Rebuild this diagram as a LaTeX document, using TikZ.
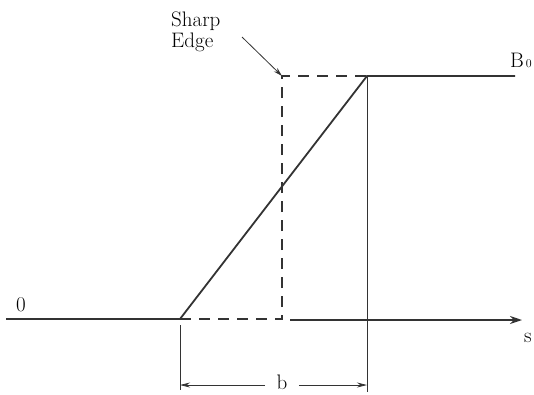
\documentclass[tikz,border=0pt]{standalone}
\usepackage{fontspec}
\usepackage{tikz}
\usetikzlibrary{arrows.meta}

\tikzset{
  label/.style={font=\fontsize{21}{21}\selectfont},
  thickline/.style={line width=1.8pt, black!80},
  thinline/.style={line width=0.8pt, black!80},
  dashline/.style={line width=1.8pt, black!80, dash pattern=on 11pt off 8pt}
}

\begin{document}
\begin{tikzpicture}[x=1pt,y=-1pt]
\useasboundingbox (0,0) rectangle (534,394);

\coordinate (left) at (6,319);
\coordinate (rampstart) at (180,319);
\coordinate (rampend) at (367,76);
\coordinate (right) at (515,76);
\coordinate (edgetop) at (282,76);
\coordinate (edgebot) at (282,319);
\coordinate (axisstart) at (290,320);
\coordinate (axisend) at (522,320);
\coordinate (dimleft) at (180,385);
\coordinate (dimright) at (367,385);

\draw[thickline] (left) -- (rampstart) -- (rampend) -- (right);
\draw[dashline] (rampstart) -- (edgebot) -- (edgetop) -- (rampend);
\draw[thickline, -{Stealth[length=12pt,width=8pt]}] (axisstart) -- (axisend);

\draw[thinline] (rampend) -- (367,392);
\draw[thinline] (180,325) -- (180,390);

\node[label] (b) at (282,382) {b};
\draw[thinline, -{Stealth[length=10pt,width=5pt]}] (b.west) ++(-8,3) -- (dimleft);
\draw[thinline, -{Stealth[length=10pt,width=5pt]}] (b.east) ++(8,3) -- (dimright);

\node[label] (zero) at (21,305) {0};
\node[label, anchor=base west, inner sep=0pt] (bzero) at (510,67) {B{\fontsize{12}{12}\selectfont\,0}};
\node[label] (s) at (528,338) {s};
\node[label, align=left, anchor=base west, inner sep=0pt] (sharp) at (171,47) {Sharp\\Edge};

\draw[thinline, -{Stealth[length=9pt,width=5pt]}] (242,37) -- (edgetop);
\end{tikzpicture}
\end{document}
